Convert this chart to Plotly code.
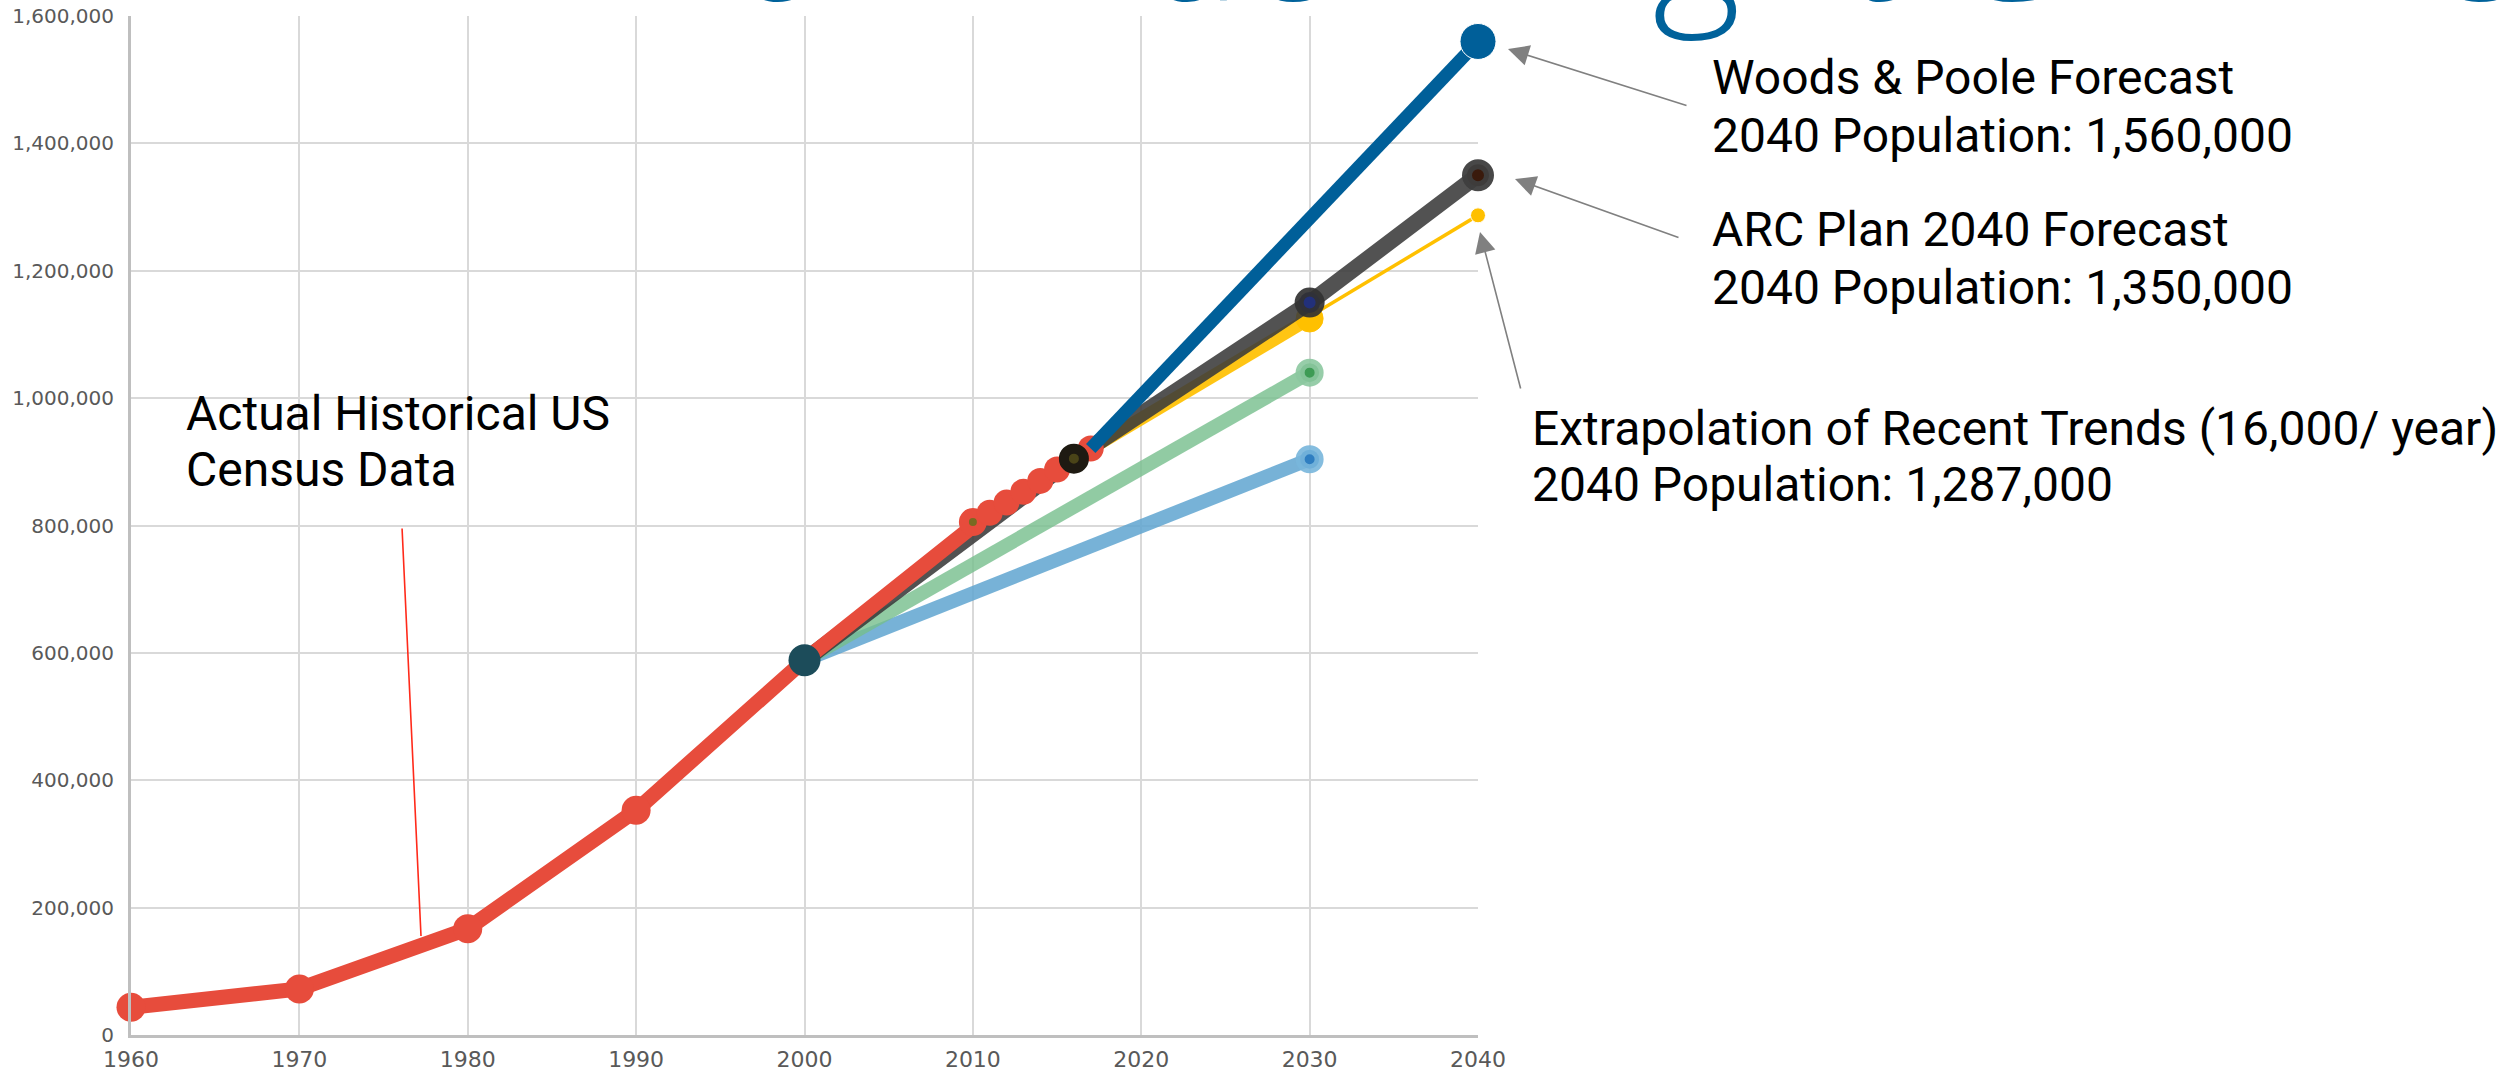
import plotly.graph_objects as go

# ---- data -------------------------------------------------------------
# Census counts (decennial) and annual estimates
hist_years = [1960, 1970, 1980, 1990, 2000, 2010, 2011, 2012, 2013, 2014, 2015, 2016, 2017]
hist_pop = [43541, 72349, 166903, 352910, 588448, 805321, 820000, 836000, 853000,
            870000, 888000, 905000, 921000]

# Woods & Poole forecast
woods_years = [2017, 2040]
woods_pop = [921000, 1560000]

# ARC plan forecast
arc_years = [2000, 2016, 2030, 2040]
arc_pop = [588448, 905000, 1150000, 1350000]

# Extrapolation of recent trend (16,000 / year)
trend_years = [2016, 2030]
trend_pop = [905000, 1125000]
trend_ext_years = [2030, 2040]
trend_ext_pop = [1128000, 1287000]

# Older, lower forecasts
mid_years = [2000, 2030]
mid_pop = [588448, 1040000]
low_years = [2000, 2030]
low_pop = [588448, 904000]

x_ticks = [1960, 1970, 1980, 1990, 2000, 2010, 2020, 2030, 2040]
y_ticks = [0, 200000, 400000, 600000, 800000, 1000000, 1200000, 1400000, 1600000]

# ---- page geometry (pixels) ----------------------------------------------
PAGE_W, PAGE_H = 2517, 1075
L, R, T, B = 131, 1478, 16, 1035
PW, PH = R - L, B - T


def px(xp):
    return (xp - L) / PW


def py(yp):
    return (B - yp) / PH


RED = "#E74C3C"
BLUE = "#005F99"

fig = go.Figure()

# light-blue low forecast
fig.add_trace(go.Scatter(
    x=low_years, y=low_pop, mode="lines+markers", cliponaxis=False,
    line=dict(color="rgba(95,165,208,0.85)", width=14),
    marker=dict(size=[0, 19], color="#2F7EC1", opacity=1,
                line=dict(color="rgba(120,182,220,0.9)", width=[0, 9])),
    hoverinfo="x+y", showlegend=False))

# green mid forecast
fig.add_trace(go.Scatter(
    x=mid_years, y=mid_pop, mode="lines+markers", cliponaxis=False,
    line=dict(color="rgba(118,190,140,0.8)", width=14),
    marker=dict(size=[0, 19], color="#3E9B55", opacity=1,
                line=dict(color="rgba(140,200,160,0.9)", width=[0, 9])),
    hoverinfo="x+y", showlegend=False))

# trend extrapolation (thick to 2030, thin to 2040)
fig.add_trace(go.Scatter(
    x=trend_years, y=trend_pop, mode="lines+markers", cliponaxis=False,
    line=dict(color="rgba(255,192,0,0.92)", width=13),
    marker=dict(size=[0, 27], color="#FFC000", opacity=1),
    hoverinfo="x+y", showlegend=False))
fig.add_trace(go.Scatter(
    x=trend_ext_years, y=trend_ext_pop, mode="lines+markers", cliponaxis=False,
    line=dict(color="#FFC000", width=3.5),
    marker=dict(size=[0, 15], color="#FFC000", opacity=1),
    hoverinfo="x+y", showlegend=False))

# ARC plan line
fig.add_trace(go.Scatter(
    x=arc_years, y=arc_pop, mode="lines", cliponaxis=False,
    line=dict(color="rgba(58,58,58,0.88)", width=16),
    hoverinfo="x+y", showlegend=False))

# historical census data
fig.add_trace(go.Scatter(
    x=hist_years, y=hist_pop, mode="lines+markers", cliponaxis=False,
    line=dict(color=RED, width=15),
    marker=dict(size=[29, 29, 29, 29, 29, 18, 26, 26, 26, 26, 26, 26, 26],
                color=[RED] * 5 + ["#7A6A22"] + [RED] * 7, opacity=1,
                line=dict(color=RED, width=[0] * 5 + [10] + [0] * 7)),
    hoverinfo="x+y", showlegend=False))

# ARC plan markers
fig.add_trace(go.Scatter(
    x=arc_years, y=arc_pop, mode="markers", cliponaxis=False,
    marker=dict(size=[0, 20, 21, 22], opacity=1,
                color=["#333333", "#4A4418", "#22307A", "#3A1A0C"],
                line=dict(color=["#333333", "#1E1A12", "rgba(50,50,50,0.92)", "rgba(62,62,62,0.95)"],
                          width=[0, 10, 9, 10])),
    hoverinfo="x+y", showlegend=False))

# Woods & Poole forecast
fig.add_trace(go.Scatter(
    x=woods_years, y=woods_pop, mode="lines+markers", cliponaxis=False,
    line=dict(color=BLUE, width=13),
    marker=dict(size=[0, 36], color=BLUE, opacity=1),
    hoverinfo="x+y", showlegend=False))

# 2000 base-year point shared by the forecasts
fig.add_trace(go.Scatter(
    x=[hist_years[4]], y=[hist_pop[4]], mode="markers", cliponaxis=False,
    marker=dict(size=32, color="#1C4C5A", opacity=1),
    hoverinfo="x+y", showlegend=False))

# ---- text ---------------------------------------------------------------
TXT = dict(family="Roboto", size=48, color="#000000")
annotations = []


def label(text, xp, yp):
    annotations.append(dict(text=text, xref="paper", yref="paper", x=px(xp), y=py(yp),
                            xanchor="left", yanchor="middle", showarrow=False, font=TXT))


label("Actual Historical US", 184, 414)
label("Census Data", 184, 470)
label("Woods &amp; Poole Forecast", 1710, 77)
label("2040 Population: 1,560,000", 1710, 135)
label("ARC Plan 2040 Forecast", 1710, 230)
label("2040 Population: 1,350,000", 1710, 287)
label("Extrapolation of Recent Trends (16,000/ year)", 1530, 429)
label("2040 Population: 1,287,000", 1530, 485)


def pointer(head, tail, color, width, headstyle, size=1.0):
    annotations.append(dict(text="", xref="paper", yref="paper",
                            x=px(head[0]), y=py(head[1]),
                            ax=tail[0] - head[0], ay=tail[1] - head[1],
                            axref="pixel", ayref="pixel",
                            showarrow=True, arrowhead=headstyle, arrowsize=size,
                            arrowwidth=width, arrowcolor=color))


pointer((1508, 49), (1688, 106), "#808080", 1.6, 2, 2.6)
pointer((1515, 179), (1680, 238), "#808080", 1.6, 2, 2.6)
pointer((1480, 232), (1521, 390), "#808080", 1.6, 2, 2.6)
pointer((421, 936), (402, 527), "#FF2A1A", 1.6, 0, 1.0)

# slide heading running off the top edge
annotations.append(dict(text="How Much Might Gwinnett Grow?", xref="paper", yref="paper",
                        x=px(1884), y=py(52), xanchor="center", yanchor="bottom",
                        showarrow=False,
                        font=dict(family="Open Sans", size=170, color="#00629B", weight=300)))

fig.update_layout(
    width=PAGE_W, height=PAGE_H,
    margin=dict(l=L, r=PAGE_W - R, t=T, b=PAGE_H - B, pad=0),
    paper_bgcolor="white", plot_bgcolor="white",
    annotations=annotations,
    xaxis=dict(range=[1960, 2040], tickvals=x_ticks, ticktext=[str(v) for v in x_ticks],
               showgrid=True, gridcolor="#D9D9D9", gridwidth=2,
               showline=True, linecolor="#BFBFBF", linewidth=3,
               zeroline=False, ticks="", ticklabelstandoff=3, automargin=False,
               tickfont=dict(family="DejaVu Sans", size=22, color="#595959")),
    yaxis=dict(range=[0, 1600000], tickvals=y_ticks, tickformat=",",
               showgrid=True, gridcolor="#D9D9D9", gridwidth=2,
               showline=True, linecolor="#BFBFBF", linewidth=3,
               zeroline=False, ticks="", ticklabelstandoff=10, automargin=False,
               tickfont=dict(family="DejaVu Sans", size=20, color="#595959")),
)

fig.write_html("out.html")
